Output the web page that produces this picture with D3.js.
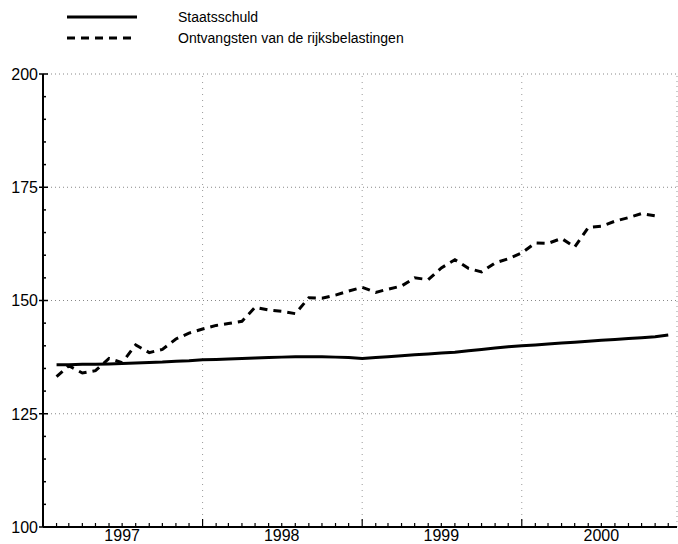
<!DOCTYPE html>
<html>
<head>
<meta charset="utf-8">
<script src="https://cdn.jsdelivr.net/npm/d3@7"></script>
<style>
  body { margin: 0; background: #fff; }
  svg { display: block; font-family: "Liberation Sans", Arial, sans-serif; }
</style>
</head>
<body>
<div id="chart"></div>
<script>
// Months Feb 1997 .. Dec 2000 (monthly readings, placed at month start)
const months = d3.timeMonth.range(new Date(1997, 1, 1), new Date(2001, 0, 1));
const years = [1997, 1998, 1999, 2000];
const yTicks = [100, 125, 150, 175, 200];

// Staatsschuld (index)
const staatsschuld = [
  135.8, 135.8, 135.9, 135.9, 136.0, 136.1, 136.2, 136.3, 136.4, 136.6, 136.7,
  136.9, 137.0, 137.1, 137.2, 137.3, 137.4, 137.5, 137.6, 137.6, 137.6, 137.5, 137.4,
  137.2, 137.4, 137.6, 137.8, 138.0, 138.2, 138.4, 138.6, 138.9, 139.2, 139.5, 139.8,
  140.0, 140.2, 140.4, 140.6, 140.8, 141.0, 141.2, 141.4, 141.6, 141.8, 142.0, 142.4
];
// Ontvangsten van de rijksbelastingen (index), Feb 1997 .. Nov 2000
const ontvangsten = [
  133.2, 135.6, 134.0, 134.5, 137.2, 136.3, 140.2, 138.5, 139.2, 141.5, 142.8,
  143.7, 144.5, 144.9, 145.4, 148.5, 147.9, 147.6, 147.1, 150.6, 150.5, 151.2, 152.1,
  152.9, 151.8, 152.5, 153.2, 155.0, 154.6, 157.2, 159.0, 157.1, 156.3, 158.3, 159.2,
  160.5, 162.7, 162.6, 163.7, 161.8, 166.1, 166.4, 167.5, 168.3, 169.2, 168.7
];

const legendItems = [
  { name: "Staatsschuld", dash: null },
  { name: "Ontvangsten van de rijksbelastingen", dash: "8,6" }
];

const width = 678, height = 544;
const svg = d3.select("#chart").append("svg")
  .attr("width", width)
  .attr("height", height);

const x = d3.scaleTime()
  .domain([new Date(1997, 0, 1), new Date(2000, 11, 21)])
  .range([43, 677]);
const y = d3.scaleLinear()
  .domain([100, 200])
  .range([527, 74]);

const [x0, x1] = x.range();

// dotted grid lines
svg.append("g")
  .selectAll("line")
  .data(yTicks.slice(1))
  .join("line")
  .attr("x1", x0).attr("x2", x1)
  .attr("y1", d => y(d)).attr("y2", d => y(d))
  .attr("stroke", "#888")
  .attr("stroke-width", 1)
  .attr("stroke-dasharray", "1,3");

svg.append("g")
  .selectAll("line")
  .data(years.slice(1))
  .join("line")
  .attr("x1", d => x(new Date(d, 0, 1))).attr("x2", d => x(new Date(d, 0, 1)))
  .attr("y1", y(100)).attr("y2", y(200))
  .attr("stroke", "#999")
  .attr("stroke-width", 1)
  .attr("stroke-dasharray", "1,5");

// right frame (faint dotted)
svg.append("line")
  .attr("x1", x1).attr("x2", x1)
  .attr("y1", y(100)).attr("y2", y(200))
  .attr("stroke", "#999")
  .attr("stroke-dasharray", "1,4");

// y axis: minor ticks every 5, major every 25
const yAxis = svg.append("g");
yAxis.append("line")
  .attr("x1", x0).attr("x2", x0)
  .attr("y1", y(100)).attr("y2", y(200))
  .attr("stroke", "#000").attr("stroke-width", 2);
yAxis.selectAll("line.minor")
  .data(d3.range(100, 201, 5))
  .join("line")
  .attr("class", "minor")
  .attr("x1", x0).attr("x2", d => x0 + (d % 25 === 0 ? 5 : 3))
  .attr("y1", d => y(d)).attr("y2", d => y(d))
  .attr("stroke", "#000").attr("stroke-width", 1.5);
yAxis.selectAll("line.major")
  .data(yTicks)
  .join("line")
  .attr("class", "major")
  .attr("x1", x0 - 4).attr("x2", x0)
  .attr("y1", d => y(d)).attr("y2", d => y(d))
  .attr("stroke", "#000").attr("stroke-width", 1.5);
yAxis.selectAll("text")
  .data(yTicks)
  .join("text")
  .attr("x", x0 - 5)
  .attr("y", d => y(d))
  .attr("dy", "0.36em")
  .attr("text-anchor", "end")
  .attr("font-size", 16)
  .text(d => d);

// x axis: month ticks, taller at year boundaries
const xAxis = svg.append("g");
xAxis.append("line")
  .attr("x1", x0).attr("x2", x1)
  .attr("y1", y(100)).attr("y2", y(100))
  .attr("stroke", "#000").attr("stroke-width", 2);
xAxis.selectAll("line.tick")
  .data(d3.timeMonth.range(new Date(1997, 1, 1), x.domain()[1]))
  .join("line")
  .attr("class", "tick")
  .attr("x1", d => x(d)).attr("x2", d => x(d))
  .attr("y1", y(100))
  .attr("y2", d => y(100) - (d.getMonth() === 0 ? 8 : 4))
  .attr("stroke", "#000").attr("stroke-width", 1.2);
xAxis.selectAll("text")
  .data(years)
  .join("text")
  .attr("x", d => x(new Date(d, 6, 1)))
  .attr("y", 541)
  .attr("text-anchor", "middle")
  .attr("font-size", 16)
  .text(d => d);

// series
const line = d3.line()
  .x((d, i) => x(months[i]))
  .y(d => y(d));

svg.append("path")
  .datum(staatsschuld)
  .attr("d", line)
  .attr("fill", "none")
  .attr("stroke", "#000")
  .attr("stroke-width", 3);

svg.append("path")
  .datum(ontvangsten)
  .attr("d", line)
  .attr("fill", "none")
  .attr("stroke", "#000")
  .attr("stroke-width", 3)
  .attr("stroke-dasharray", "8,6");

// legend
const legend = svg.append("g")
  .selectAll("g")
  .data(legendItems)
  .join("g")
  .attr("transform", (d, i) => `translate(0,${17 + i * 21})`);
legend.append("line")
  .attr("x1", 67).attr("x2", 137)
  .attr("stroke", "#000")
  .attr("stroke-width", 3)
  .attr("stroke-dasharray", d => d.dash);
legend.append("text")
  .attr("x", 178)
  .attr("dy", "0.35em")
  .attr("font-size", 14)
  .text(d => d.name);
</script>
</body>
</html>
